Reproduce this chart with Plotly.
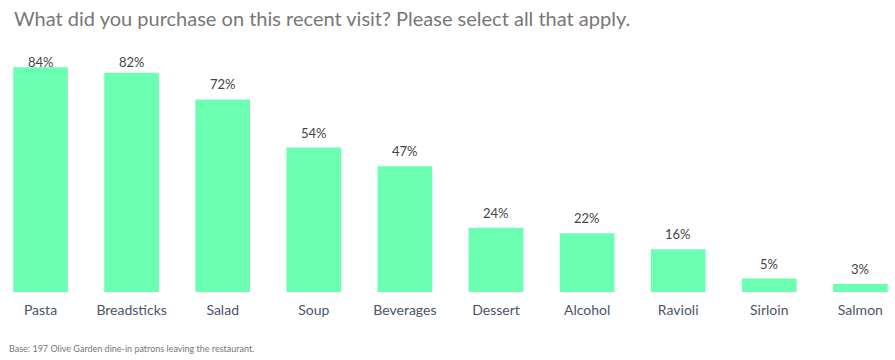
import plotly.graph_objects as go

categories = ["Pasta", "Breadsticks", "Salad", "Soup", "Beverages", "Dessert", "Alcohol", "Ravioli", "Sirloin", "Salmon"]
values = [84, 82, 72, 54, 47, 24, 22, 16, 5, 3]
labels = [f"{v}%" for v in values]

title = "What did you purchase on this recent visit? Please select all that apply."
footnote = "Base: 197 Olive Garden dine-in patrons leaving the restaurant."

xs = list(range(len(categories)))

fig = go.Figure(go.Bar(
    x=xs,
    y=values,
    marker=dict(color="#6bffb1", line=dict(width=0)),
    width=0.6,
    hoverinfo="skip",
))

L, R, T, B = 0, 0, 40, 68
pw = 895 - L - R
ph = 360 - T - B
YMAX = 94.2

def px_to_paper(px, py):
    return (px - L) / pw, (360 - B - py) / ph

annotations = []
for xi, v, lab in zip(xs, values, labels):
    bar_top_px = T + ph * (1 - v / YMAX)
    # label sits ~9px above the bar, but never above the top label line
    glyph_top = bar_top_px - 9 - 10
    shift = 5
    if glyph_top < 58:
        shift -= (58 - glyph_top)
    annotations.append(dict(
        text=lab, x=xi, y=v, xref="x", yref="y", showarrow=False,
        xanchor="center", yanchor="bottom", yshift=shift,
        font=dict(size=13, color="#444444", family="Lato"),
    ))

tx, ty = px_to_paper(12, 18)
annotations.append(dict(text=title, x=tx, y=ty, xref="paper", yref="paper", showarrow=False,
                        xanchor="left", yanchor="middle",
                        font=dict(size=20, color="#777777", family="Lato")))
fx, fy = px_to_paper(7, 348)
annotations.append(dict(text=footnote, x=fx, y=fy, xref="paper", yref="paper", showarrow=False,
                        xanchor="left", yanchor="middle",
                        font=dict(size=9, color="#777777", family="Lato")))

fig.update_layout(
    width=895, height=360,
    margin=dict(l=L, r=R, t=T, b=B, autoexpand=False),
    paper_bgcolor="white", plot_bgcolor="white",
    showlegend=False,
    font=dict(family="Lato", color="#4a5568"),
    xaxis=dict(
        range=[-0.4446, 9.380],
        automargin=False,
        tickmode="array",
        tickvals=xs,
        ticktext=categories,
        tickfont=dict(size=14, color="#4a5568", family="Lato"),
        showgrid=False, zeroline=False, showline=False, ticks="",
        ticklabelstandoff=8,
    ),
    yaxis=dict(range=[0, YMAX], visible=False, automargin=False),
    annotations=annotations,
)

fig.write_html(
    "out.html",
    config={"displayModeBar": False},
    post_script="document.body.style.margin='0';document.body.style.overflow='hidden';",
)
